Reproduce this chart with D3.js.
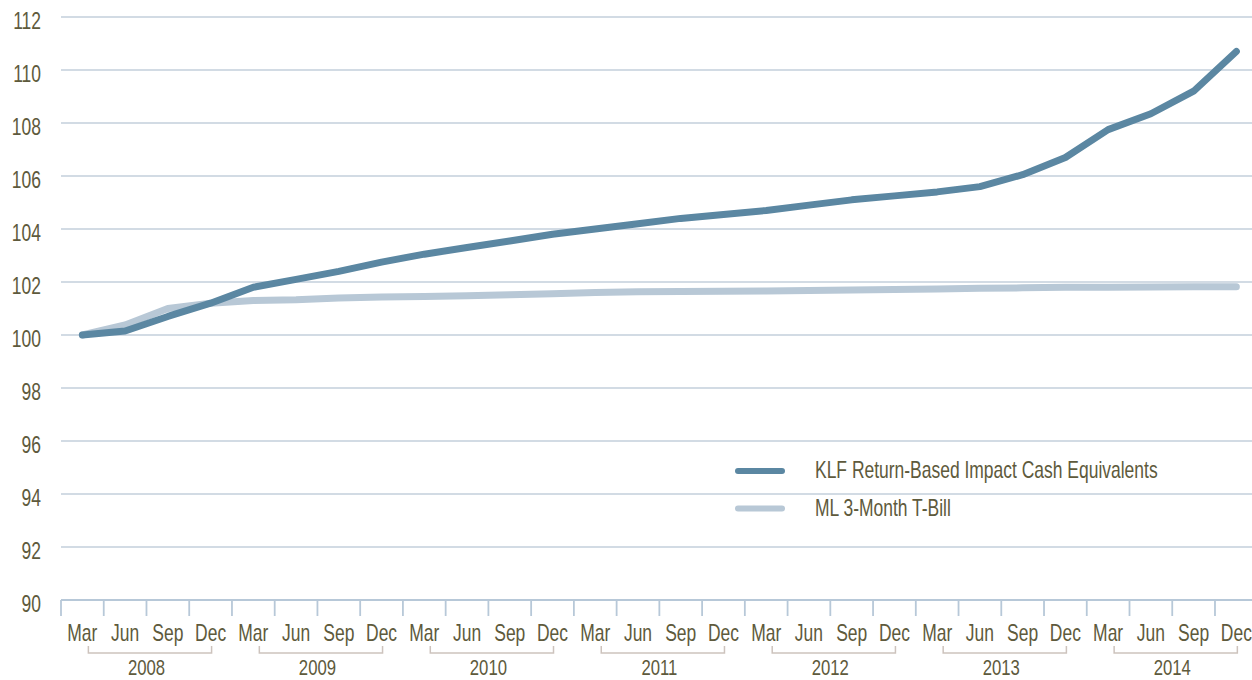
<!DOCTYPE html>
<html>
<head>
<meta charset="utf-8">
<script src="https://cdn.jsdelivr.net/npm/d3@7/dist/d3.min.js"></script>
<style>
  body { margin: 0; background: #fff; }
  text { font-family: "Liberation Sans", Arial, sans-serif; font-size: 23px; fill: #5e5a3c; }
  .grid line { stroke: #c3cfdb; stroke-width: 1.6px; }
</style>
</head>
<body>
<div id="chart"></div>
<script>
// quarters, Mar 2008 .. Dec 2014
const years = ['2008', '2009', '2010', '2011', '2012', '2013', '2014'];
const months = ['Mar', 'Jun', 'Sep', 'Dec'];
const yTicks = [90, 92, 94, 96, 98, 100, 102, 104, 106, 108, 110, 112];

const klf = [100.0, 100.15, 100.7, 101.2, 101.8, 102.1, 102.4, 102.75,
             103.05, 103.3, 103.55, 103.8, 104.0, 104.2, 104.4, 104.55,
             104.7, 104.9, 105.1, 105.25, 105.4, 105.6, 106.05, 106.7,
             107.75, 108.35, 109.2, 110.7];
const tbill = [100.0, 100.38, 101.0, 101.2, 101.3, 101.33, 101.4, 101.43,
               101.45, 101.48, 101.52, 101.56, 101.6, 101.63, 101.64, 101.65,
               101.66, 101.68, 101.7, 101.72, 101.74, 101.76, 101.78, 101.8,
               101.8, 101.81, 101.82, 101.82];

const seriesNames = ['KLF Return-Based Impact Cash Equivalents', 'ML 3-Month T-Bill'];
const colors = ['#5b87a2', '#b8c8d6'];

const width = 1252, height = 680;
const marginLeft = 61, plotTop = 17, plotBottom = 600;
const squeeze = 0.76; // fake a condensed face

const quarters = [];
years.forEach(yr => months.forEach(m => quarters.push(yr + '-' + m)));

const svg = d3.select('#chart').append('svg')
    .attr('width', width)
    .attr('height', height);

const x = d3.scaleBand()
    .domain(quarters)
    .range([marginLeft, marginLeft + 42.74 * quarters.length]);

const y = d3.scaleLinear()
    .domain([90, 112])
    .range([plotBottom, plotTop]);

function place(px, py) {
    return 'translate(' + px + ',' + py + ') scale(' + squeeze + ',1)';
}

// gridlines
svg.append('g')
    .attr('class', 'grid')
    .selectAll('line')
    .data(yTicks.filter(d => d > 90))
    .enter()
    .append('line')
    .attr('x1', marginLeft)
    .attr('x2', width)
    .attr('y1', d => y(d))
    .attr('y2', d => y(d));

// y labels
svg.append('g')
    .selectAll('text')
    .data(yTicks)
    .enter()
    .append('text')
    .attr('transform', d => place(41, y(d) + 12))
    .attr('text-anchor', 'end')
    .text(d => d);

// x axis line + ticks
const axis = svg.append('g').attr('stroke', '#b7c8d8').attr('stroke-width', 1.8);
axis.append('line')
    .attr('x1', marginLeft).attr('x2', width)
    .attr('y1', plotBottom).attr('y2', plotBottom);
axis.selectAll('.tick')
    .data(quarters)
    .enter()
    .append('line')
    .attr('x1', d => x(d)).attr('x2', d => x(d))
    .attr('y1', plotBottom).attr('y2', plotBottom + 16);

// month labels
svg.append('g')
    .selectAll('text')
    .data(quarters)
    .enter()
    .append('text')
    .attr('transform', d => place(x(d) + x.bandwidth() / 2, 641))
    .attr('text-anchor', 'middle')
    .text(d => d.split('-')[1]);

// year brackets
const yearG = svg.append('g')
    .selectAll('g')
    .data(years)
    .enter()
    .append('g');

yearG.append('path')
    .attr('fill', 'none')
    .attr('stroke', '#cdc3bd')
    .attr('stroke-width', 1.5)
    .attr('d', d => {
        const x0 = x(d + '-Mar') + x.bandwidth() / 2 + 6;
        const x1 = x(d + '-Dec') + x.bandwidth() / 2 + 1;
        return 'M' + x0 + ',646V653H' + x1 + 'V646';
    });

yearG.append('text')
    .attr('transform', d => place((x(d + '-Mar') + x(d + '-Dec') + x.bandwidth()) / 2, 675))
    .style('font-size', '22px')
    .attr('text-anchor', 'middle')
    .text(d => d);

// lines
const line = d3.line()
    .x((d, i) => x(quarters[i]) + x.bandwidth() / 2)
    .y(d => y(d));

[tbill, klf].forEach((s, i) => {
    svg.append('path')
        .datum(s)
        .attr('fill', 'none')
        .attr('stroke', colors[1 - i])
        .attr('stroke-width', 7)
        .attr('stroke-linecap', 'round')
        .attr('stroke-linejoin', 'round')
        .attr('d', line);
});

// legend
const legend = svg.append('g')
    .selectAll('g')
    .data(seriesNames)
    .enter()
    .append('g')
    .attr('transform', (d, i) => 'translate(0,' + (471 + i * 37.5) + ')');

legend.append('line')
    .attr('x1', 738).attr('x2', 782)
    .attr('stroke', (d, i) => colors[i])
    .attr('stroke-width', 6)
    .attr('stroke-linecap', 'round');

legend.append('text')
    .attr('transform', place(815, 7))
    .text(d => d);
</script>
</body>
</html>
